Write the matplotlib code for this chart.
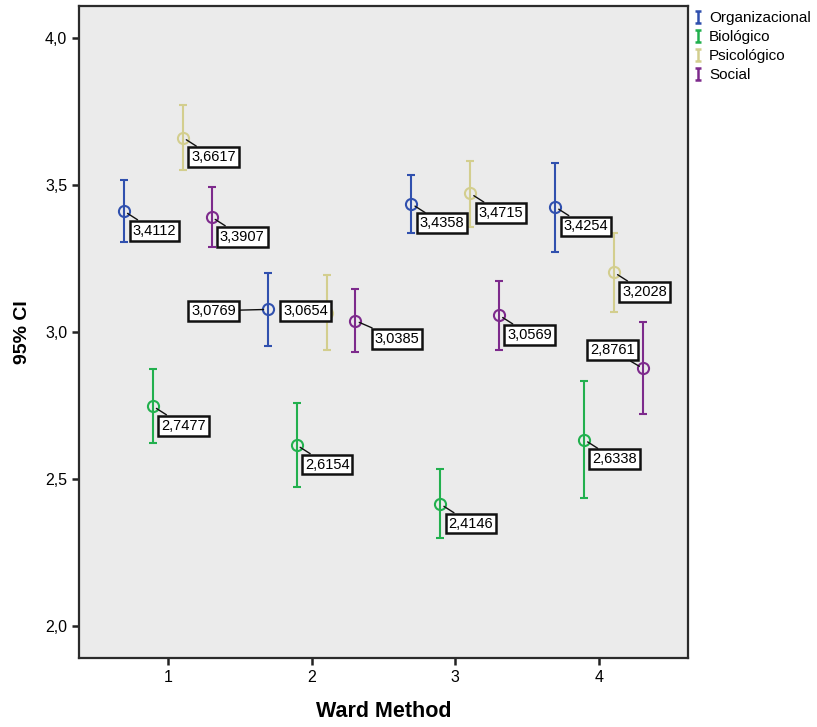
import matplotlib.pyplot as plt
import numpy as np
from matplotlib.lines import Line2D
from matplotlib.path import Path
from matplotlib.ticker import FuncFormatter

plt.rcParams['font.family'] = ['Liberation Sans', 'DejaVu Sans']

# Ward Method clusters
groups = [1, 2, 3, 4]
series_names = ['Organizacional', 'Biológico', 'Psicológico', 'Social']
series_colors = ['#3050AE', '#22B04E', '#D3CE8E', '#7D2A8C']

# means and 95% CI bounds
org_mean = [3.4112, 3.0769, 3.4358, 3.4254]
org_lo = [3.306, 2.952, 3.336, 3.273]
org_hi = [3.517, 3.202, 3.534, 3.574]

bio_mean = [2.7477, 2.6154, 2.4146, 2.6338]
bio_lo = [2.623, 2.474, 2.299, 2.434]
bio_hi = [2.874, 2.757, 2.533, 2.834]

psi_mean = [3.6617, 3.0654, 3.4715, 3.2028]
psi_lo = [3.551, 2.939, 3.356, 3.069]
psi_hi = [3.771, 3.193, 3.583, 3.336]

soc_mean = [3.3907, 3.0385, 3.0569, 2.8761]
soc_lo = [3.288, 2.933, 2.939, 2.720]
soc_hi = [3.492, 3.145, 3.173, 3.035]

means = [org_mean, bio_mean, psi_mean, soc_mean]
lows = [org_lo, bio_lo, psi_lo, soc_lo]
highs = [org_hi, bio_hi, psi_hi, soc_hi]
offsets = [-0.305, -0.104, 0.104, 0.305]

# label offsets (points) - default lower right, a few moved
default_off = (22, -14)
label_off = {(0, 1): (-39, -1), (2, 1): (-15, 1), (3, 1): (30, -13),
             (3, 3): (-22, 13)}

fig = plt.figure(figsize=(8.17, 7.27), dpi=100)
ax = fig.add_axes([0.0967, 0.0949, 0.7453, 0.8968])
ax.set_facecolor('#EBEBEB')

for s in range(4):
    x = np.array(groups) + offsets[s]
    m = np.array(means[s])
    yerr = [m - np.array(lows[s]), np.array(highs[s]) - m]
    ax.errorbar(x, m, yerr=yerr, fmt='o', color=series_colors[s],
                mfc='none', mec=series_colors[s], ms=8, mew=1.5,
                elinewidth=1.5, capsize=3.2, capthick=1.5, zorder=3)
    for g in range(4):
        off = label_off.get((s, g), default_off)
        ax.annotate(f'{m[g]:.4f}'.replace('.', ','), (x[g], m[g]),
                    xytext=off, textcoords='offset points',
                    ha='center', va='center', fontsize=10.5, color='black',
                    bbox=dict(boxstyle='square,pad=0.2', fc='white',
                              ec='#111111', lw=1.8),
                    arrowprops=dict(arrowstyle='-', color='#111111', lw=1,
                                    shrinkA=0, shrinkB=3),
                    zorder=5)

ax.set_xlim(0.382, 4.618)
ax.set_ylim(1.891, 4.109)
ax.set_xticks(groups)
ax.set_yticks([2.0, 2.5, 3.0, 3.5, 4.0])
ax.yaxis.set_major_formatter(FuncFormatter(lambda v, p: f'{v:.1f}'.replace('.', ',')))
ax.tick_params(direction='out', length=5, width=1.8, labelsize=11.5,
               color='#222222', labelcolor='black')
for sp in ax.spines.values():
    sp.set_color('#2B2B2B')
    sp.set_linewidth(1.6)

ax.set_xlabel('Ward Method', fontsize=15.5, fontweight='bold', labelpad=12)
ax.set_ylabel('95% CI', fontsize=14, fontweight='bold', labelpad=10)

# legend with I-shaped error bar glyph
ibar = Path([(-0.5, 1), (0.5, 1), (0, 1), (0, -1), (-0.5, -1), (0.5, -1)],
            [Path.MOVETO, Path.LINETO, Path.MOVETO, Path.LINETO,
             Path.MOVETO, Path.LINETO])
handles = [Line2D([], [], ls='none', marker=ibar, ms=8.5, mew=1.8,
                  mec=c, mfc='none') for c in series_colors]
fig.legend(handles, series_names, loc='upper left',
           bbox_to_anchor=(0.836, 0.997), frameon=False, fontsize=11,
           handlelength=0.7, handletextpad=0.4, labelspacing=0.32,
           borderaxespad=0.2)

fig.savefig('out.png', dpi=100)
